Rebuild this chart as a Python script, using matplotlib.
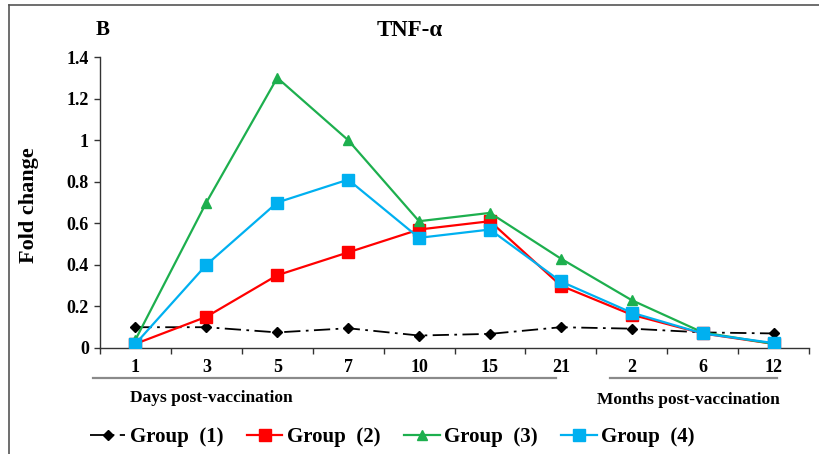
import matplotlib
matplotlib.use("Agg")
import matplotlib.pyplot as plt
from matplotlib.lines import Line2D
import numpy as np

# Sampling points: days 1-21 then months 2-12
time_labels = ["1", "3", "5", "7", "10", "15", "21", "2", "6", "12"]

group1 = [0.10, 0.10, 0.075, 0.095, 0.06, 0.068, 0.10, 0.093, 0.075, 0.07]
group2 = [0.02, 0.15, 0.35, 0.46, 0.57, 0.61, 0.30, 0.16, 0.07, 0.02]
group3 = [0.04, 0.70, 1.30, 1.00, 0.61, 0.65, 0.43, 0.23, 0.075, 0.02]
group4 = [0.02, 0.40, 0.70, 0.81, 0.53, 0.57, 0.32, 0.17, 0.07, 0.024]

y_ticks = [0, 0.2, 0.4, 0.6, 0.8, 1.0, 1.2, 1.4]
y_tick_labels = ["0", "0.2", "0.4", "0.6", "0.8", "1", "1.2", "1.4"]

plt.rcParams["font.family"] = ["Liberation Serif", "DejaVu Serif"]
plt.rcParams["font.weight"] = "bold"

W, H = 819, 454
fig = plt.figure(figsize=(W / 100, H / 100), dpi=100)
ax = fig.add_axes([100 / W, 1 - 348 / H, 709 / W, 291 / H])

x = np.arange(len(time_labels))
l1, = ax.plot(x, group1, color="black", linestyle=(0, (9, 3, 1.5, 3)), linewidth=1.3,
              marker="D", markersize=5.5, label="Group  (1)", zorder=3)
l2, = ax.plot(x, group2, color="#FF0000", linewidth=1.6, marker="s", markersize=8,
              label="Group  (2)", zorder=4)
l3, = ax.plot(x, group3, color="#1DAF4E", linewidth=1.6, marker="^", markersize=7,
              label="Group  (3)", zorder=4)
l4, = ax.plot(x, group4, color="#00B0F0", linewidth=1.6, marker="s", markersize=8,
              label="Group  (4)", zorder=5)

ax.set_xlim(-0.5, len(time_labels) - 0.5)
ax.set_ylim(0, 1.4)
for side in ("top", "right"):
    ax.spines[side].set_visible(False)
for side in ("left", "bottom"):
    ax.spines[side].set_color("#333333")
    ax.spines[side].set_linewidth(1.0)

ax.set_yticks(y_ticks)
ax.set_yticklabels(y_tick_labels)
ax.tick_params(axis="y", direction="out", length=4, width=1, pad=4, labelsize=13,
               color="#333333")

# category labels centred, tick marks on the boundaries
ax.set_xticks(x)
ax.set_xticklabels(time_labels)
ax.set_xticks(np.arange(-0.5, len(time_labels)), minor=True)
ax.tick_params(axis="x", which="major", length=0, pad=8, labelsize=13)
ax.tick_params(axis="x", which="minor", direction="out", length=4, width=1,
               color="#333333")

# group brackets under the categories
fig.add_artist(Line2D([93 / W, 556 / W], [1 - 378 / H] * 2, color="#8a8a8a", linewidth=1.6))
fig.add_artist(Line2D([610 / W, 777 / W], [1 - 378 / H] * 2, color="#8a8a8a", linewidth=1.6))
fig.text(130 / W, 1 - 398 / H, "Days post-vaccination", fontsize=12.5, fontweight="bold",
         ha="left", va="center")
fig.text(597 / W, 1 - 400 / H, "Months post-vaccination", fontsize=12.5, fontweight="bold",
         ha="left", va="center")

fig.text(29 / W, 1 - 205 / H, "Fold change", rotation=90, fontsize=16, fontweight="bold",
         ha="center", va="center")
fig.text(410 / W, 1 - 30 / H, "TNF-α", fontsize=16.5, fontweight="bold", ha="center", va="center")
fig.text(96 / W, 1 - 30 / H, "B", fontsize=15, fontweight="bold", ha="left", va="center")

fig.legend(handles=[l1, l2, l3, l4], loc="center left", bbox_to_anchor=(90 / W, 1 - 437 / H),
           ncol=4, frameon=False, handlelength=1.7, handletextpad=0.2,
           columnspacing=1.15, borderaxespad=0, borderpad=0,
           prop={"weight": "bold", "size": 15})

# frame lines along top and left of the panel
fig.add_artist(Line2D([9 / W, 1], [1 - 5 / H] * 2, color="#555555", linewidth=1.2))
fig.add_artist(Line2D([9 / W, 9 / W], [0, 1 - 5 / H], color="#555555", linewidth=1.2))

fig.savefig("out.png", dpi=100)
